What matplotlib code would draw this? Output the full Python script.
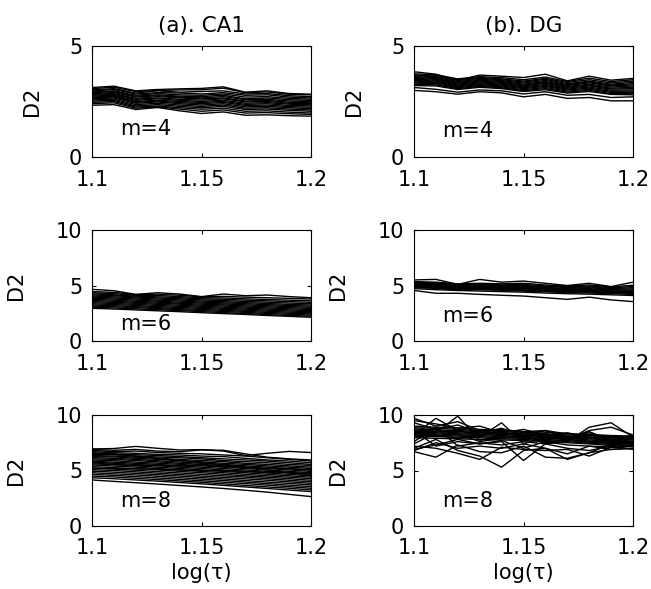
import matplotlib.pyplot as plt

plt.rcParams.update({'font.size': 15, 'font.family': 'DejaVu Sans'})

TAU = [1.10, 1.11, 1.12, 1.13, 1.14, 1.15, 1.16, 1.17, 1.18, 1.19, 1.20]
XTICKS = [1.1, 1.15, 1.2]
XTICKLABELS = ['1.1', '1.15', '1.2']
YTICKS = [[0, 5], [0, 5, 10], [0, 5, 10]]
YLIMS = [(0, 5), (0, 10), (0, 10)]
TITLES = ['(a). CA1', '(b). DG']
EMBED = ['m=4', 'm=6', 'm=8']

# D2 curves, one row per recording
CA1_M4 = [
    [3.13, 3.19, 2.98, 3.04, 3.07, 3.09, 3.16, 2.92, 2.98, 2.86, 2.83],
    [3.08, 3.14, 2.95, 3.00, 3.02, 3.03, 3.10, 2.90, 2.93, 2.82, 2.80],
    [3.02, 3.08, 2.88, 2.98, 2.92, 2.95, 2.98, 2.84, 2.86, 2.76, 2.72],
    [2.98, 3.04, 2.84, 2.90, 2.88, 2.84, 2.90, 2.78, 2.80, 2.70, 2.66],
    [2.93, 2.98, 2.78, 2.86, 2.80, 2.78, 2.84, 2.70, 2.72, 2.64, 2.60],
    [2.90, 2.95, 2.74, 2.80, 2.74, 2.72, 2.78, 2.62, 2.66, 2.58, 2.55],
    [2.86, 2.90, 2.70, 2.76, 2.70, 2.66, 2.72, 2.58, 2.60, 2.52, 2.50],
    [2.82, 2.86, 2.64, 2.72, 2.66, 2.62, 2.66, 2.52, 2.55, 2.47, 2.44],
    [2.78, 2.82, 2.60, 2.66, 2.60, 2.56, 2.62, 2.48, 2.50, 2.42, 2.40],
    [2.74, 2.78, 2.55, 2.62, 2.55, 2.50, 2.56, 2.42, 2.45, 2.38, 2.35],
    [2.70, 2.74, 2.50, 2.56, 2.50, 2.46, 2.50, 2.37, 2.40, 2.32, 2.30],
    [2.66, 2.70, 2.46, 2.52, 2.45, 2.40, 2.46, 2.32, 2.34, 2.27, 2.24],
    [2.62, 2.66, 2.42, 2.48, 2.40, 2.34, 2.40, 2.26, 2.28, 2.22, 2.18],
    [2.57, 2.60, 2.36, 2.42, 2.34, 2.28, 2.34, 2.20, 2.22, 2.16, 2.12],
    [2.52, 2.55, 2.30, 2.36, 2.28, 2.22, 2.28, 2.14, 2.16, 2.10, 2.06],
    [2.46, 2.50, 2.25, 2.30, 2.22, 2.15, 2.20, 2.06, 2.08, 2.02, 1.98],
    [2.40, 2.44, 2.20, 2.26, 2.16, 2.06, 2.12, 1.98, 2.00, 1.95, 1.92],
    [2.33, 2.36, 2.14, 2.23, 2.08, 1.96, 2.03, 1.88, 1.90, 1.86, 1.84],
]

DG_M4 = [
    [3.84, 3.73, 3.46, 3.69, 3.64, 3.58, 3.73, 3.43, 3.64, 3.46, 3.54],
    [3.75, 3.70, 3.52, 3.62, 3.58, 3.48, 3.60, 3.40, 3.55, 3.40, 3.48],
    [3.70, 3.66, 3.48, 3.58, 3.52, 3.42, 3.54, 3.36, 3.48, 3.34, 3.42],
    [3.66, 3.62, 3.44, 3.54, 3.48, 3.38, 3.50, 3.30, 3.42, 3.28, 3.36],
    [3.62, 3.58, 3.40, 3.50, 3.44, 3.33, 3.45, 3.26, 3.38, 3.24, 3.30],
    [3.58, 3.54, 3.36, 3.46, 3.40, 3.28, 3.40, 3.22, 3.34, 3.20, 3.25],
    [3.54, 3.50, 3.32, 3.42, 3.36, 3.24, 3.36, 3.18, 3.28, 3.15, 3.20],
    [3.50, 3.46, 3.28, 3.38, 3.32, 3.20, 3.32, 3.14, 3.24, 3.10, 3.14],
    [3.46, 3.42, 3.24, 3.34, 3.28, 3.16, 3.27, 3.10, 3.20, 3.06, 3.08],
    [3.42, 3.38, 3.20, 3.30, 3.24, 3.12, 3.22, 3.06, 3.15, 3.01, 3.02],
    [3.38, 3.34, 3.16, 3.26, 3.20, 3.08, 3.18, 3.02, 3.10, 2.96, 2.97],
    [3.33, 3.30, 3.12, 3.22, 3.16, 3.03, 3.13, 2.97, 3.05, 2.91, 2.92],
    [3.28, 3.25, 3.08, 3.18, 3.12, 2.99, 3.08, 2.92, 3.00, 2.86, 2.86],
    [3.22, 3.20, 3.04, 3.14, 3.08, 2.95, 3.03, 2.88, 2.95, 2.82, 2.80],
    [3.13, 3.05, 2.92, 3.02, 2.98, 2.84, 2.94, 2.78, 2.82, 2.68, 2.71],
    [3.00, 2.94, 2.83, 2.94, 2.89, 2.71, 2.82, 2.64, 2.68, 2.53, 2.53],
]

CA1_M6 = [
    [4.65, 4.53, 4.20, 4.35, 4.23, 4.00, 4.23, 4.08, 4.14, 4.00, 3.90],
    [4.45, 4.38, 4.18, 4.22, 4.12, 3.98, 4.02, 3.95, 3.90, 3.84, 3.78],
    [4.35, 4.26, 4.12, 4.10, 4.00, 3.90, 3.88, 3.80, 3.74, 3.68, 3.62],
    [4.25, 4.16, 4.04, 3.98, 3.90, 3.80, 3.76, 3.68, 3.62, 3.55, 3.48],
    [4.15, 4.08, 3.96, 3.88, 3.80, 3.70, 3.65, 3.56, 3.50, 3.42, 3.36],
    [4.05, 3.98, 3.88, 3.78, 3.70, 3.60, 3.54, 3.46, 3.38, 3.30, 3.24],
    [3.95, 3.88, 3.78, 3.68, 3.60, 3.50, 3.44, 3.36, 3.28, 3.20, 3.14],
    [3.85, 3.78, 3.68, 3.58, 3.50, 3.42, 3.34, 3.26, 3.18, 3.10, 3.04],
    [3.75, 3.68, 3.58, 3.50, 3.40, 3.32, 3.25, 3.16, 3.08, 3.00, 2.94],
    [3.65, 3.58, 3.48, 3.40, 3.32, 3.22, 3.15, 3.06, 2.98, 2.90, 2.84],
    [3.55, 3.48, 3.40, 3.30, 3.22, 3.13, 3.05, 2.96, 2.88, 2.80, 2.74],
    [3.45, 3.38, 3.30, 3.20, 3.12, 3.03, 2.95, 2.87, 2.78, 2.70, 2.64],
    [3.35, 3.28, 3.20, 3.10, 3.02, 2.94, 2.85, 2.77, 2.68, 2.60, 2.54],
    [3.25, 3.18, 3.10, 3.00, 2.92, 2.84, 2.76, 2.67, 2.58, 2.50, 2.44],
    [3.15, 3.08, 3.00, 2.92, 2.82, 2.74, 2.66, 2.58, 2.48, 2.40, 2.34],
    [3.05, 2.98, 2.90, 2.82, 2.74, 2.65, 2.56, 2.48, 2.38, 2.30, 2.24],
    [2.95, 2.88, 2.80, 2.72, 2.64, 2.55, 2.47, 2.39, 2.30, 2.22, 2.14],
]

DG_M6 = [
    [5.50, 5.55, 5.10, 5.55, 5.30, 5.40, 5.20, 5.00, 5.20, 4.90, 5.30],
    [5.35, 5.30, 5.15, 5.20, 5.15, 5.20, 5.05, 4.95, 5.05, 4.88, 5.02],
    [5.28, 5.22, 5.08, 5.12, 5.06, 5.10, 4.96, 4.88, 4.96, 4.80, 4.90],
    [5.22, 5.16, 5.02, 5.05, 5.00, 5.00, 4.90, 4.82, 4.88, 4.72, 4.80],
    [5.16, 5.10, 4.96, 4.98, 4.92, 4.92, 4.82, 4.75, 4.80, 4.65, 4.70],
    [5.10, 5.04, 4.90, 4.92, 4.86, 4.84, 4.76, 4.68, 4.72, 4.58, 4.60],
    [5.04, 4.98, 4.84, 4.86, 4.80, 4.76, 4.70, 4.62, 4.64, 4.52, 4.52],
    [4.98, 4.92, 4.78, 4.80, 4.74, 4.70, 4.62, 4.55, 4.56, 4.46, 4.44],
    [4.92, 4.86, 4.72, 4.74, 4.68, 4.62, 4.56, 4.48, 4.48, 4.40, 4.36],
    [4.86, 4.80, 4.66, 4.68, 4.62, 4.56, 4.50, 4.42, 4.40, 4.34, 4.28],
    [4.80, 4.74, 4.60, 4.62, 4.56, 4.50, 4.44, 4.36, 4.33, 4.26, 4.20],
    [4.72, 4.62, 4.55, 4.50, 4.45, 4.40, 4.32, 4.26, 4.22, 4.16, 4.10],
    [4.55, 4.30, 4.30, 4.20, 4.12, 4.05, 3.90, 3.75, 3.95, 3.70, 3.55],
]

CA1_M8 = [
    [6.94, 6.98, 7.17, 7.00, 6.85, 6.88, 6.75, 6.35, 6.55, 6.72, 6.62],
    [6.90, 6.82, 6.90, 6.75, 6.70, 6.85, 6.82, 6.50, 6.20, 6.05, 5.95],
    [6.80, 6.70, 6.75, 6.62, 6.55, 6.50, 6.40, 6.30, 6.15, 6.00, 5.85],
    [6.70, 6.60, 6.55, 6.45, 6.40, 6.30, 6.25, 6.10, 5.95, 5.85, 5.70],
    [6.60, 6.45, 6.30, 6.10, 5.90, 5.70, 5.50, 5.30, 5.05, 4.80, 4.55],
    [6.55, 6.50, 6.42, 6.35, 6.25, 6.15, 6.05, 5.95, 5.85, 5.70, 5.55],
    [6.45, 6.42, 6.30, 6.22, 6.15, 6.05, 5.90, 5.80, 5.70, 5.55, 5.45],
    [6.35, 6.30, 6.20, 6.10, 6.00, 5.90, 5.80, 5.65, 5.55, 5.42, 5.30],
    [6.25, 6.22, 6.10, 6.00, 5.88, 5.78, 5.65, 5.55, 5.42, 5.30, 5.18],
    [6.15, 6.10, 6.00, 5.88, 5.76, 5.65, 5.55, 5.42, 5.30, 5.18, 5.05],
    [6.05, 6.00, 5.90, 5.78, 5.65, 5.55, 5.42, 5.30, 5.18, 5.05, 4.92],
    [5.70, 5.55, 5.45, 5.50, 5.40, 5.52, 5.35, 5.30, 5.20, 5.15, 5.05],
    [5.95, 5.88, 5.76, 5.66, 5.55, 5.42, 5.30, 5.18, 5.05, 4.92, 4.80],
    [5.85, 5.75, 5.65, 5.55, 5.42, 5.30, 5.18, 5.05, 4.92, 4.80, 4.65],
    [5.75, 5.65, 5.55, 5.42, 5.30, 5.18, 5.05, 4.92, 4.78, 4.65, 4.52],
    [5.60, 5.52, 5.42, 5.30, 5.18, 5.05, 4.92, 4.80, 4.66, 4.52, 4.40],
    [5.50, 5.40, 5.30, 5.18, 5.05, 4.92, 4.80, 4.66, 4.52, 4.40, 4.26],
    [5.20, 5.18, 5.15, 5.12, 5.05, 5.00, 4.98, 4.92, 4.85, 4.80, 4.75],
    [5.35, 5.26, 5.16, 5.05, 4.92, 4.80, 4.66, 4.52, 4.40, 4.26, 4.12],
    [5.22, 5.12, 5.02, 4.90, 4.78, 4.65, 4.52, 4.40, 4.26, 4.12, 3.98],
    [5.08, 5.00, 4.88, 4.76, 4.64, 4.50, 4.38, 4.25, 4.12, 3.98, 3.84],
    [4.95, 4.85, 4.74, 4.62, 4.50, 4.36, 4.24, 4.10, 3.96, 3.84, 3.70],
    [4.80, 4.70, 4.60, 4.48, 4.35, 4.22, 4.10, 3.96, 3.82, 3.68, 3.55],
    [4.65, 4.56, 4.45, 4.33, 4.20, 4.08, 3.95, 3.82, 3.68, 3.54, 3.40],
    [4.50, 4.42, 4.30, 4.18, 4.06, 3.94, 3.80, 3.66, 3.52, 3.40, 3.25],
    [4.35, 4.26, 4.15, 4.04, 3.92, 3.80, 3.66, 3.52, 3.38, 3.24, 3.10],
    [4.15, 4.02, 3.90, 3.78, 3.65, 3.52, 3.38, 3.22, 3.05, 2.85, 2.65],
]

DG_M8 = [
    [9.00, 8.90, 8.85, 8.70, 8.60, 8.50, 8.45, 8.30, 8.25, 8.15, 8.10],
    [8.85, 8.80, 8.70, 8.60, 8.50, 8.45, 8.30, 8.20, 8.15, 8.05, 7.95],
    [8.75, 8.65, 8.60, 8.50, 8.40, 8.30, 8.25, 8.10, 8.00, 7.95, 7.85],
    [8.65, 8.55, 8.50, 8.40, 8.35, 8.20, 8.15, 8.00, 7.95, 7.85, 7.75],
    [8.55, 8.50, 8.40, 8.30, 8.25, 8.15, 8.05, 7.95, 7.85, 7.75, 7.65],
    [8.45, 8.40, 8.30, 8.25, 8.15, 8.05, 7.95, 7.90, 7.75, 7.65, 7.55],
    [8.35, 8.30, 8.20, 8.15, 8.05, 7.95, 7.90, 7.80, 7.65, 7.55, 7.45],
    [8.25, 8.20, 8.10, 8.05, 7.95, 7.90, 7.80, 7.70, 7.55, 7.45, 7.35],
    [8.10, 8.05, 8.00, 7.95, 7.85, 7.80, 7.70, 7.60, 7.45, 7.35, 7.25],
    [7.95, 7.90, 7.85, 7.80, 7.75, 7.70, 7.60, 7.50, 7.40, 7.25, 7.15],
    [9.30, 8.70, 9.10, 8.40, 8.80, 8.20, 8.60, 8.00, 8.40, 7.80, 8.00],
    [8.20, 9.70, 8.60, 8.20, 8.50, 8.00, 8.30, 7.90, 8.50, 7.70, 7.60],
    [7.40, 8.40, 9.90, 7.70, 8.20, 8.40, 8.10, 7.80, 8.00, 7.60, 7.50],
    [8.00, 8.20, 7.90, 8.00, 9.30, 7.40, 8.00, 7.80, 7.60, 7.50, 7.40],
    [7.00, 7.80, 6.80, 6.30, 5.30, 6.80, 7.00, 6.50, 7.20, 6.90, 7.00],
    [8.60, 7.20, 7.60, 7.40, 7.60, 5.90, 7.40, 7.00, 6.80, 7.20, 6.90],
    [6.80, 7.50, 7.00, 7.20, 7.00, 7.40, 7.00, 6.00, 6.60, 7.40, 7.20],
    [6.70, 6.20, 7.30, 6.70, 6.60, 7.20, 6.20, 6.10, 6.60, 6.90, 7.00],
    [7.20, 7.00, 6.55, 6.00, 7.10, 6.90, 6.80, 6.90, 6.30, 7.10, 6.95],
    [7.60, 8.90, 7.20, 7.50, 7.30, 7.60, 7.40, 7.60, 8.90, 9.30, 8.00],
    [8.20, 8.10, 8.30, 7.60, 7.90, 8.20, 7.50, 7.80, 8.60, 8.90, 8.20],
    [6.90, 7.30, 7.80, 7.40, 7.70, 7.00, 7.60, 7.30, 7.20, 7.10, 7.20],
    [9.50, 9.20, 8.80, 9.00, 8.40, 8.70, 8.20, 8.40, 8.00, 8.10, 7.80],
    [9.70, 9.00, 9.40, 8.60, 8.70, 8.50, 8.60, 8.30, 8.20, 8.00, 8.10],
]

PANELS = [[CA1_M4, DG_M4], [CA1_M6, DG_M6], [CA1_M8, DG_M8]]


def main():
    fig = plt.figure(figsize=(6.51, 5.89), dpi=100)

    lefts = [92 / 651, 414 / 651]
    bottoms = [1 - 157 / 589, 1 - 341 / 589, 1 - 526 / 589]
    w, h = 219 / 651, 111 / 589
    label_y = [[0.2, 0.18], [0.1, 0.17], [0.17, 0.17]]
    ylab_x = [-0.23, -0.30, -0.30]

    for row in range(3):
        for col in range(2):
            ax = fig.add_axes([lefts[col], bottoms[row], w, h])
            for curve in PANELS[row][col]:
                ax.plot(TAU, curve, color='black', lw=1.0)

            ax.set_xlim(1.1, 1.2)
            ax.set_ylim(*YLIMS[row])
            ax.set_xticks(XTICKS)
            ax.set_xticklabels(XTICKLABELS)
            ax.set_yticks(YTICKS[row])
            ax.tick_params(direction='in', top=True, right=True, length=3,
                           width=0.8, labelsize=15)
            ax.tick_params(axis='x', pad=9)
            ax.tick_params(axis='y', pad=7)
            for s in ax.spines.values():
                s.set_linewidth(0.8)

            ax.text(0.128, label_y[row][col], EMBED[row], transform=ax.transAxes,
                    fontsize=15)
            ax.set_ylabel('D2', fontsize=15)
            ax.yaxis.set_label_coords(ylab_x[row], 0.5)

            if row == 0:
                ax.set_title(TITLES[col], fontsize=15.5, pad=10)
            if row == 2:
                ax.set_xlabel('log(τ)', fontsize=15, labelpad=3)

    plt.savefig('out.png', dpi=100)
    plt.close()


if __name__ == '__main__':
    main()
